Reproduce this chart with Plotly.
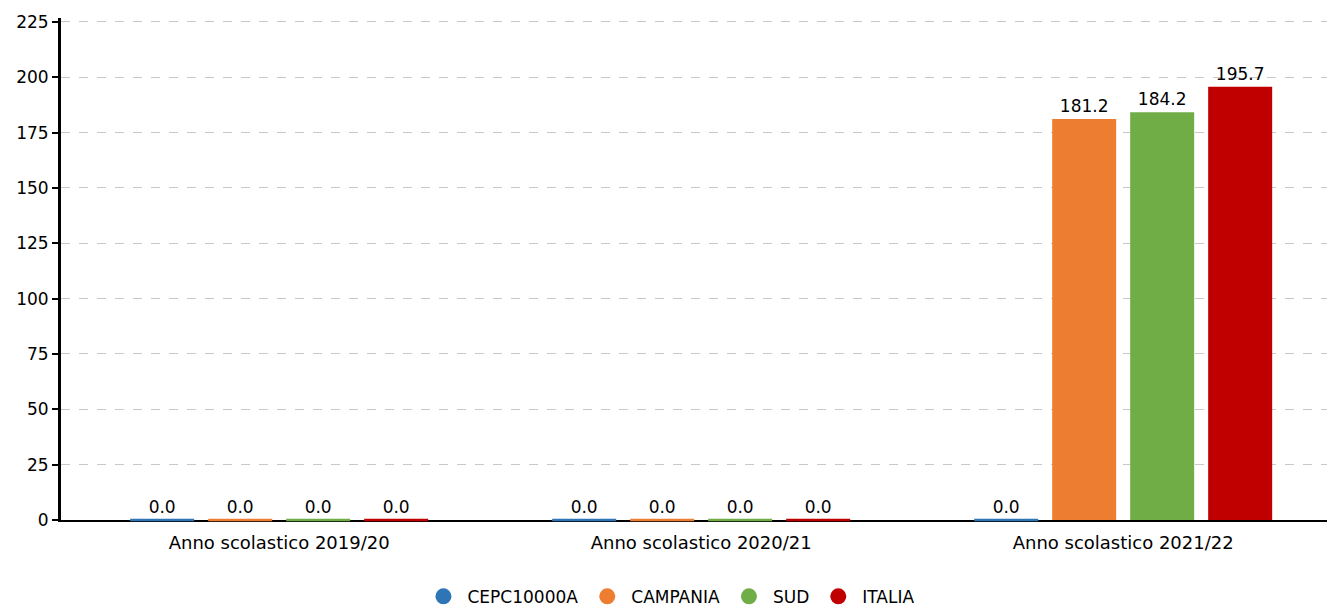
import plotly.graph_objects as go

categories = ["Anno scolastico 2019/20", "Anno scolastico 2020/21", "Anno scolastico 2021/22"]
series_names = ["CEPC10000A", "CAMPANIA", "SUD", "ITALIA"]
cepc = [0.0, 0.0, 0.0]
campania = [0.0, 0.0, 181.2]
sud = [0.0, 0.0, 184.2]
italia = [0.0, 0.0, 195.7]
y_ticks = [0, 25, 50, 75, 100, 125, 150, 175, 200, 225]

series_values = [cepc, campania, sud, italia]
colors = ["#2E75B6", "#ED7D31", "#70AD47", "#C00000"]

FONT = "DejaVu Sans"
px_per_cat = 422.0
bar_w = 64 / px_per_cat
step = 78 / px_per_cat
bar_px = 64

fig = go.Figure()
xs = list(range(len(categories)))
n = len(series_names)
for k, (name, vals, col) in enumerate(zip(series_names, series_values, colors)):
    center_off = (k - (n - 1) / 2) * step
    fig.add_trace(go.Bar(
        x=xs, y=vals, name=name, width=bar_w, offset=center_off - bar_w / 2,
        marker=dict(color=col, line=dict(width=0)),
        texttemplate="%{y:.1f}", textposition="outside",
        textfont=dict(family=FONT, size=17, color="#000000"),
        cliponaxis=False, showlegend=False,
    ))
    # thin baseline stroke for zero-valued bars (line-ew length = 1.4 * size)
    zx = [x + center_off for x, v in zip(xs, vals) if v == 0]
    zy = [v for v in vals if v == 0]
    if zx:
        fig.add_trace(go.Scatter(
            x=zx, y=zy, mode="markers", showlegend=False, hoverinfo="skip",
            marker=dict(symbol="line-ew", size=bar_px / 1.4, color=col,
                        line=dict(color=col, width=2.5)),
            cliponaxis=False,
        ))
    # legend entry
    fig.add_trace(go.Scatter(
        x=[None], y=[None], mode="markers", name=name,
        marker=dict(symbol="circle", size=16, color=col),
    ))

fig.update_layout(
    template="none",
    width=1327, height=610,
    margin=dict(l=61, r=0, t=18, b=90, autoexpand=False),
    paper_bgcolor="white", plot_bgcolor="white",
    barmode="overlay",
    font=dict(family=FONT, size=17, color="#000000"),
    showlegend=True,
    legend=dict(orientation="h", x=0.481, xanchor="center", y=-0.153, yanchor="middle",
                font=dict(family=FONT, size=17, color="#000000"),
                itemsizing="trace", itemwidth=38, itemclick=False,
                bgcolor="rgba(0,0,0,0)"),
    xaxis=dict(
        tickmode="array", tickvals=xs, ticktext=categories,
        range=[-0.517, 2.483], showgrid=False, zeroline=False,
        showline=True, linecolor="#000000", linewidth=2,
        ticks="", ticklabelstandoff=5,
        tickfont=dict(family=FONT, size=18, color="#000000"),
        automargin=False, layer="below traces",
    ),
    yaxis=dict(
        range=[0, 226.8], tickmode="array", tickvals=y_ticks,
        showgrid=True, gridcolor="#c8c8c8", griddash="dash", gridwidth=1,
        zeroline=False, showline=True, linecolor="#000000", linewidth=3,
        ticks="outside", ticklen=6, tickwidth=2, tickcolor="#000000",
        tickfont=dict(family=FONT, size=17, color="#000000"),
        automargin=False, layer="below traces",
    ),
)

fig.write_html(
    "out.html",
    config={"displayModeBar": False},
    post_script="document.body.style.margin='0';document.body.style.overflow='hidden';",
)
